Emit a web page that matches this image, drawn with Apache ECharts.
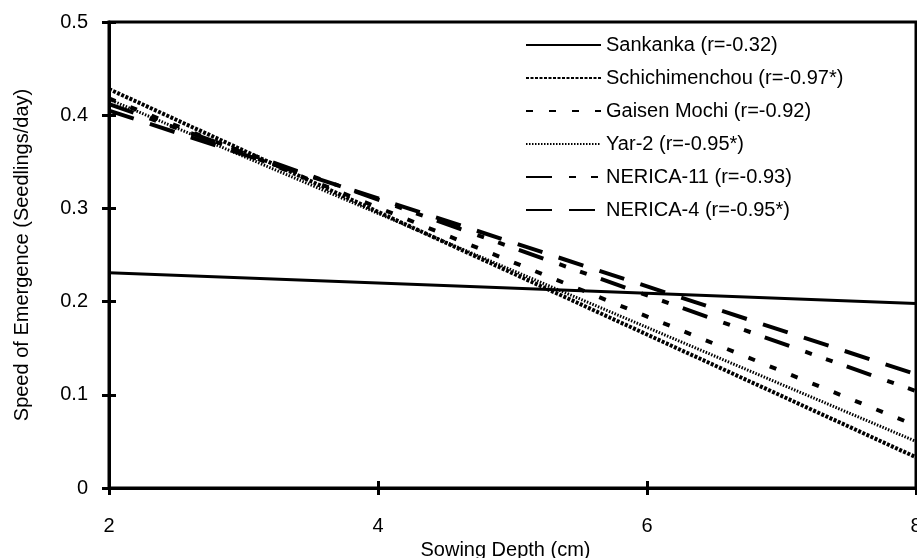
<!DOCTYPE html>
<html><head><meta charset="utf-8">
<script src="https://cdn.jsdelivr.net/npm/echarts@6/dist/echarts.min.js"></script>
<style>html,body{margin:0;padding:0;background:#fff}#c{width:917px;height:558px}</style>
</head><body><div id="c"></div>
<script>
// Sowing depth (cm) at which the fitted lines are read
const depths = [2, 8];
const seriesNames = [
  'Sankanka (r=-0.32)',
  'Schichimenchou (r=-0.97*)',
  'Gaisen Mochi (r=-0.92)',
  'Yar-2 (r=-0.95*)',
  'NERICA-11 (r=-0.93)',
  'NERICA-4 (r=-0.95*)'
];
// Speed of emergence (seedlings/day) at depths 2 and 8
const sankanka = [0.231, 0.198];
const schichimenchou = [0.428, 0.033];
const gaisenMochi = [0.418, 0.067];
const yar2 = [0.417, 0.050];
const nerica11 = [0.412, 0.104];
const nerica4 = [0.405, 0.122];
const xTicks = [2, 4, 6, 8];
const yTicks = [0, 0.1, 0.2, 0.3, 0.4, 0.5];

const values = [sankanka, schichimenchou, gaisenMochi, yar2, nerica11, nerica4];
const styles = [
  {width: 3, type: 'solid'},
  {width: 4, type: [3, 1.5]},
  {width: 4, type: [7, 16]},
  {width: 3, type: [1.5, 1.5]},
  {width: 4, type: [26, 17, 7, 15, 7, 15]},
  {width: 4, type: [26, 17]}
];
const FONT = 'Liberation Sans, Arial, sans-serif';

const chart = echarts.init(document.getElementById('c'), null, {renderer: 'canvas'});
const series = seriesNames.map((n, i) => ({
  name: n,
  type: 'line',
  xAxisIndex: 0,
  yAxisIndex: 0,
  symbol: 'none',
  showSymbol: false,
  silent: true,
  lineStyle: {color: '#000', width: styles[i].width, type: styles[i].type, cap: 'butt'},
  itemStyle: {color: '#000'},
  data: depths.map((d, j) => [d, values[i][j]])
}));

const xMin = xTicks[0], xMax = xTicks[xTicks.length - 1];
const yMin = yTicks[0], yMax = yTicks[yTicks.length - 1];

chart.setOption({
  animation: false,
  backgroundColor: '#fff',
  textStyle: {fontFamily: FONT, color: '#000'},
  grid: {left: 109, right: 1, top: 22, bottom: 70, show: true, borderColor: '#000', borderWidth: 3,
         containLabel: false, outerBoundsMode: 'none'},
  legend: {
    orient: 'vertical',
    left: 520,
    top: 30,
    itemWidth: 75,
    itemHeight: 20,
    itemGap: 13,
    data: seriesNames,
    itemStyle: {opacity: 0, borderWidth: 0},
    textStyle: {fontFamily: FONT, fontSize: 20, color: '#000'},
    inactiveColor: '#000'
  },
  xAxis: [{
    type: 'value', min: xMin, max: xMax, interval: 2, position: 'bottom',
    name: 'Sowing Depth (cm)', nameLocation: 'middle', nameGap: 43,
    nameTextStyle: {fontFamily: FONT, fontSize: 20, color: '#000', padding: [0, 14, 0, 0]},
    axisLine: {show: true, lineStyle: {color: '#000', width: 3}},
    axisTick: {show: true, inside: false, length: 7, lineStyle: {color: '#000', width: 3}},
    axisLabel: {fontFamily: FONT, fontSize: 20, color: '#000', margin: 28},
    splitLine: {show: false}
  }, {
    type: 'value', min: xMin, max: xMax, interval: 2, position: 'bottom', offset: 0,
    axisLine: {show: false},
    axisTick: {show: true, inside: true, length: 7, lineStyle: {color: '#000', width: 3}},
    axisLabel: {show: false},
    splitLine: {show: false}
  }],
  yAxis: [{
    type: 'value', min: yMin, max: yMax, interval: 0.1, position: 'left',
    name: 'Speed of Emergence (Seedlings/day)', nameLocation: 'middle', nameGap: 77,
    nameTextStyle: {fontFamily: FONT, fontSize: 20, color: '#000'},
    axisLine: {show: true, lineStyle: {color: '#000', width: 3}},
    axisTick: {show: true, inside: false, length: 7, lineStyle: {color: '#000', width: 3}},
    axisLabel: {fontFamily: FONT, fontSize: 20, color: '#000', margin: 21},
    splitLine: {show: false}
  }, {
    type: 'value', min: yMin, max: yMax, interval: 0.1, position: 'left', offset: 0,
    axisLine: {show: false},
    axisTick: {show: true, inside: true, length: 7, lineStyle: {color: '#000', width: 3}},
    axisLabel: {show: false},
    splitLine: {show: false}
  }],
  series: series
});
</script></body></html>
